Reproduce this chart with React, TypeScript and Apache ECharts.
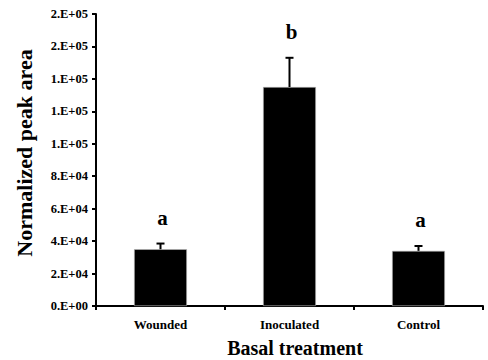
import React, { useEffect, useRef } from "react";
import * as echarts from "echarts";

const categories = ["Wounded", "Inoculated", "Control"];
const means = [35000, 135000, 34000];
const errorTops = [38500, 153000, 37000];
const letters = ["a", "b", "a"];
const yMin = 0;
const yMax = 180000;
const yInterval = 20000;

const FONT = '"Liberation Serif", "Times New Roman", serif';

function sci(v: number): string {
  if (v === 0) return "0.E+00";
  let exp = Math.floor(Math.log10(v));
  let mant = Math.round(v / Math.pow(10, exp));
  if (mant === 10) {
    mant = 1;
    exp += 1;
  }
  return `${mant}.E+${String(exp).padStart(2, "0")}`;
}

export default function App() {
  const ref = useRef<HTMLDivElement>(null);
  useEffect(() => {
    if (!ref.current) return;
    const chart = echarts.init(ref.current, null, { renderer: "svg" });
    const option: any = {
      animation: false,
      backgroundColor: "#ffffff",
      grid: { left: 96, right: 5, top: 14, bottom: 54, containLabel: false },
      xAxis: {
        type: "category",
        data: categories,
        axisLine: { lineStyle: { color: "#000", width: 2 } },
        axisTick: { show: true, length: 4, lineStyle: { color: "#000", width: 2 } },
        axisLabel: {
          margin: 12,
          color: "#000",
          fontFamily: FONT,
          fontWeight: "bold",
          fontSize: 13,
        },
        splitLine: { show: false },
      },
      yAxis: {
        type: "value",
        min: yMin,
        max: yMax,
        interval: yInterval,
        axisLine: { show: true, lineStyle: { color: "#000", width: 2 } },
        axisTick: { show: true, length: 4, lineStyle: { color: "#000", width: 2 } },
        axisLabel: {
          margin: 8,
          color: "#000",
          fontFamily: FONT,
          fontWeight: "bold",
          fontSize: 12.5,
          formatter: (v: number) => sci(v),
        },
        splitLine: { show: false },
      },
      graphic: [
        {
          type: "text",
          x: 24,
          y: 153,
          rotation: Math.PI / 2,
          style: {
            text: "Normalized peak area",
            textAlign: "center",
            textVerticalAlign: "middle",
            font: `bold 22px ${FONT}`,
            fill: "#000",
          },
        },
        {
          type: "text",
          x: 295,
          y: 348,
          style: {
            text: "Basal treatment",
            textAlign: "center",
            textVerticalAlign: "middle",
            font: `bold 20px ${FONT}`,
            fill: "#000",
          },
        },
      ],
      series: [
        {
          type: "bar",
          data: means,
          barWidth: "41%",
          itemStyle: { color: "#000", borderColor: "#bbb", borderWidth: 0.6 },
          z: 2,
        },
        {
          type: "custom",
          z: 3,
          data: categories.map((_, i) => [i, means[i], errorTops[i]]),
          renderItem: (params: any, api: any) => {
            const i = params.dataIndex;
            const base = api.coord([api.value(0), api.value(1)]);
            const top = api.coord([api.value(0), api.value(2)]);
            const x = base[0];
            return {
              type: "group",
              children: [
                {
                  type: "line",
                  shape: { x1: x, y1: base[1], x2: x, y2: top[1] },
                  style: { stroke: "#000", lineWidth: 2 },
                },
                {
                  type: "line",
                  shape: { x1: x - 4, y1: top[1], x2: x + 4, y2: top[1] },
                  style: { stroke: "#000", lineWidth: 2 },
                },
                {
                  type: "text",
                  x: x + 2,
                  y: top[1] - 26,
                  style: {
                    text: letters[i],
                    textAlign: "center",
                    textVerticalAlign: "middle",
                    font: `bold 21px ${FONT}`,
                    fill: "#000",
                  },
                },
              ],
            };
          },
        },
      ],
    };
    chart.setOption(option);
    return () => chart.dispose();
  }, []);
  return (
    <div
      ref={ref}
      style={{ position: "fixed", left: 0, top: 0, width: 488, height: 360 }}
    />
  );
}
